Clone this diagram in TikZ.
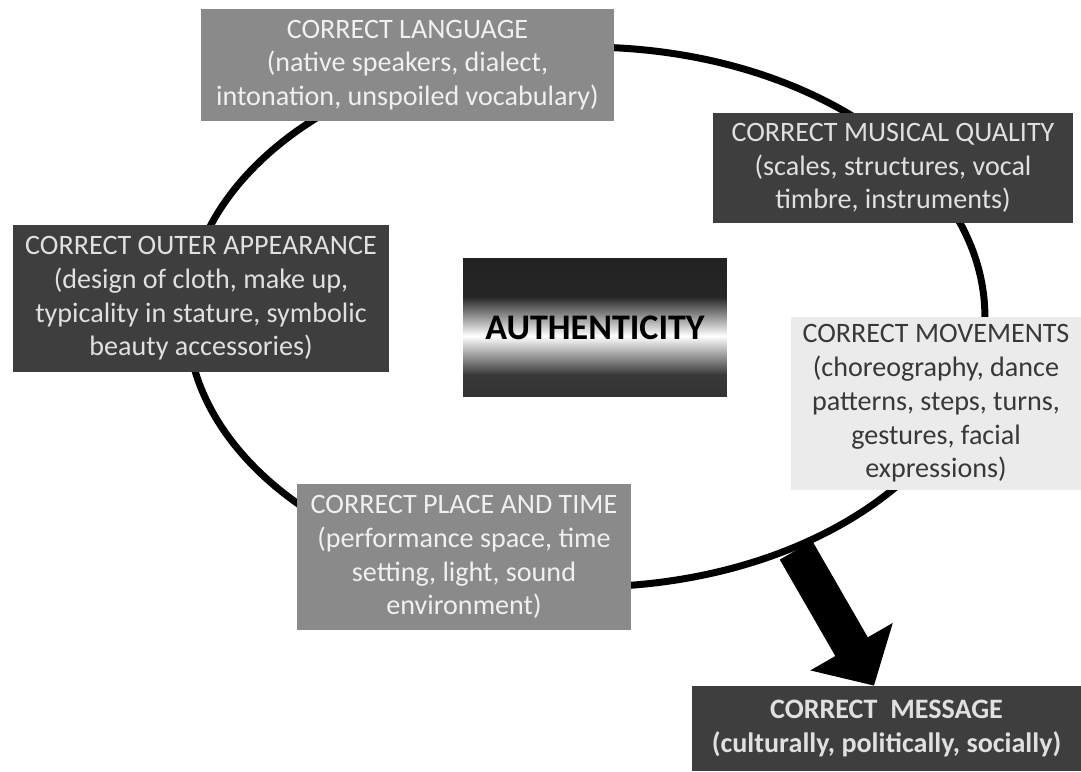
\documentclass[tikz,border=0pt]{standalone}
\usepackage{fontspec}
\setmainfont{Carlito}
\usetikzlibrary{arrows.meta, positioning, shapes.geometric}
\definecolor{boxdark}{HTML}{3E3E3E}
\definecolor{boxgray}{HTML}{8A8A8A}
\definecolor{boxlight}{HTML}{EBEBEB}
\pgfdeclareverticalshading{authshade}{100bp}{color(0bp)=(black!80); color(25bp)=(black!80); color(33bp)=(black!78); color(47bp)=(white); color(61bp)=(black!85); color(75bp)=(black!87); color(100bp)=(black!87)}

\begin{document}
\begin{tikzpicture}[
        x=0.02cm, y=-0.02cm,
        font=\fontsize{16}{19.2}\selectfont,
        box/.style={rectangle, align=center, inner sep=0pt},
        darkbox/.style={box, fill=boxdark, text=white!88!black},
        graybox/.style={box, fill=boxgray, text=white!94!black},
        lightbox/.style={box, fill=boxlight, text=black!78},
        ring/.style={ellipse, draw, line width=0.14cm, minimum width=15.96cm, minimum height=10.8cm, inner sep=0pt},
        bigar/.style={-{Triangle[length=0.9cm, width=1.85cm]}, line width=0.75cm}
    ]
        \useasboundingbox (0,0) rectangle (1081,771);

        \node[ring] (ring) at (586,317) {};

        \node[graybox, minimum width=8.26cm, minimum height=2.24cm] (lang) at (407.5,65)
            {CORRECT LANGUAGE\\(native speakers, dialect,\\intonation, unspoiled vocabulary)};
        \node[darkbox, minimum width=7.2cm, minimum height=2.2cm] (music) at (893,168)
            {CORRECT MUSICAL QUALITY\\(scales, structures, vocal\\timbre, instruments)};
        \node[darkbox, minimum width=7.52cm, minimum height=2.94cm] (outer) at (201,298.5)
            {CORRECT OUTER APPEARANCE\\(design of cloth, make up,\\typicality in stature, symbolic\\beauty accessories)};
        \node[box, shading=authshade, minimum width=5.28cm, minimum height=2.78cm,
              font=\fontsize{20.5}{24}\selectfont\bfseries] (auth) at (595,327.5) {AUTHENTICITY};
        \node[lightbox, minimum width=5.8cm, minimum height=3.46cm] (move) at (936,403.5)
            {CORRECT MOVEMENTS\\(choreography, dance\\patterns, steps, turns,\\gestures, facial\\expressions)};
        \node[graybox, minimum width=6.68cm, minimum height=2.92cm] (place) at (464,557)
            {CORRECT PLACE AND TIME\\(performance space, time\\setting, light, sound\\environment)};
        \node[darkbox, minimum width=7.78cm, minimum height=1.7cm, font=\fontsize{16}{19.2}\selectfont\bfseries] (msg) at (886.5,728.5)
            {CORRECT\ \ MESSAGE\\(culturally, politically, socially)};

        \draw[bigar] (ring.-48) -- ([xshift=-0.25cm]msg.north);
    \end{tikzpicture}
\end{document}
